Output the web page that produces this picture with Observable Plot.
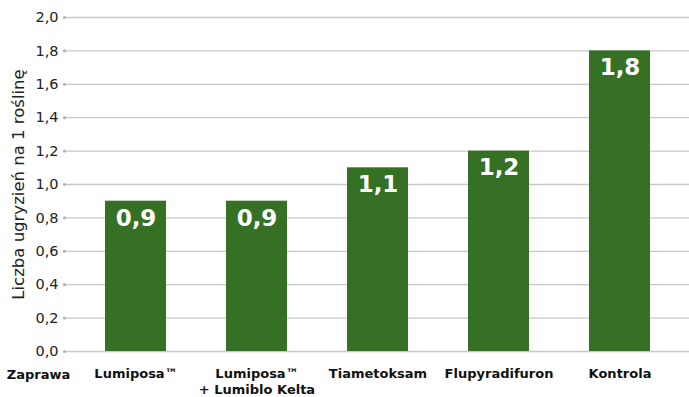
<!DOCTYPE html>
<html><head><meta charset="utf-8">
<script src="https://cdn.jsdelivr.net/npm/d3@7"></script>
<script src="https://cdn.jsdelivr.net/npm/@observablehq/plot@0.6"></script>
<style>body{margin:0;background:#fff;font-family:"DejaVu Sans",sans-serif}</style>
</head><body><div id="chart"></div>
<script>
const categories = ["Lumiposa™", "Lumiposa™\n+ Lumiblo Kelta", "Tiametoksam", "Flupyradifuron", "Kontrola"];
const values = [0.9, 0.9, 1.1, 1.2, 1.8];
const yTicks = [0, 0.2, 0.4, 0.6, 0.8, 1.0, 1.2, 1.4, 1.6, 1.8, 2.0];
const yLabel = "Liczba ugryzień na 1 roślinę";
const rowLabel = "Zaprawa";

const data = categories.map((c, i) => ({c, v: values[i]}));
const fmt = d => d3.format(".1f")(d).replace(".", ",");

const chart = Plot.plot({
  width: 689, height: 397,
  marginLeft: 66, marginRight: 0, marginTop: 17, marginBottom: 46,
  style: {fontFamily: "'DejaVu Sans', sans-serif", background: "#fff"},
  x: {domain: categories, paddingInner: 0.5, paddingOuter: 0.314, label: null},
  y: {domain: [0, 2], label: null},
  marks: [
    Plot.ruleY(yTicks, {stroke: "#c8c8c8", strokeWidth: 1.3}),
    Plot.dot(yTicks, {y: d => d, frameAnchor: "left", dx: -2, r: 1.6, fill: "#b5b5b5", stroke: null}),
    Plot.barY(data, {x: "c", y: "v", fill: "#367024"}),
    Plot.text(data, {x: "c", y: "v", text: d => fmt(d.v), dy: 17, fill: "#fff", fontSize: 23, fontWeight: 700}),
    Plot.axisY({ticks: yTicks, tickSize: 0, tickPadding: 8, tickFormat: fmt, fontSize: 14.5, fill: "#222", label: null}),
    Plot.text([yLabel], {text: d => d, frameAnchor: "left", dx: -48, rotate: -90, fontSize: 16.5, fill: "#222", textAnchor: "middle", lineAnchor: "middle"}),
    Plot.axisX({tickSize: 0, tickPadding: 14, fontSize: 13, fontWeight: 700, fill: "#111", lineHeight: 1.3, label: null}),
    Plot.text([rowLabel], {text: d => d, frameAnchor: "bottom-left", dx: -28, dy: 27, fontSize: 13, fontWeight: 700, fill: "#111", textAnchor: "middle"})
  ]
});
chart.querySelectorAll('g[aria-label="y-axis tick label"]').forEach(g => { g.setAttribute("font-size", "14.5"); g.style.fontSize = "14.5px"; });
document.getElementById("chart").appendChild(chart);
</script></body></html>
